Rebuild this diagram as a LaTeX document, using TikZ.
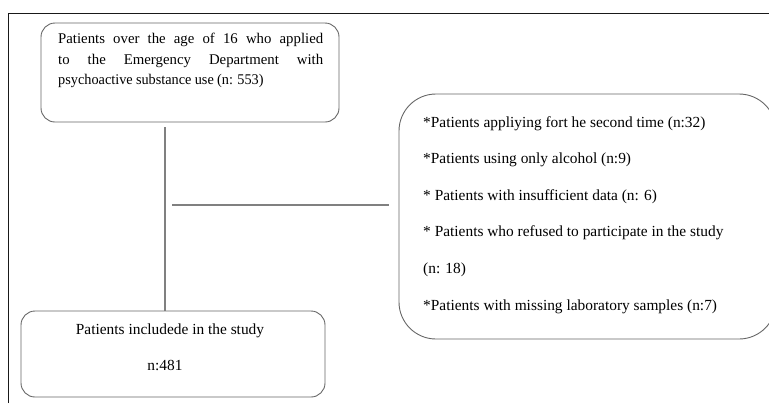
\documentclass[tikz,border=0pt]{standalone}
\usepackage{fontspec}
\setmainfont{Liberation Serif}
\begin{document}
\begin{tikzpicture}[x=1bp,y=-1bp,
  box/.style={draw=black!60, line width=0.9bp, rounded corners=14bp},
  bigbox/.style={draw=black!60, line width=0.9bp, rounded corners=37bp},
  conn/.style={draw=black!50, line width=1.4bp},
  frameline/.style={draw=black!90, line width=1bp},
  txt/.style={inner sep=0pt, font=\fontsize{15.4bp}{20.5bp}\selectfont},
  ttxt/.style={inner sep=0pt, font=\fontsize{14.8bp}{20.5bp}\selectfont}]
\useasboundingbox (0,0) rectangle (769,403);
\clip (0,0) rectangle (769,403);
% frame
\coordinate (fl) at (8,403);
\coordinate (fc) at (8,13);
\coordinate (fr) at (769,13);
\draw[frameline] (fl) -- (fc) -- (fr);
% boxes
\node[box, minimum width=298bp, minimum height=99bp] (top) at (190,72.5) {};
\node[ttxt, anchor=north west, text width=265bp, align=justify] (toptext) at (58,33)
  {Patients over the age of 16 who applied\linebreak to the Emergency Department with\linebreak {\addfontfeatures{FakeStretch=0.965}\spaceskip=0.22em psychoactive substance use (n: 553)}};
\node[box, minimum width=304bp, minimum height=86bp] (bottom) at (173,354) {};
\node[txt, anchor=base] (inc) at (170,334) {Patients includede in the study};
\node[txt, anchor=base] (n481) at (165,370) {n:481};
\node[bigbox, minimum width=377bp, minimum height=245bp] (excl) at (587.5,216.5) {};
\node[txt, anchor=base west] (e1) at (423,127) {*Patients appliying fort he second time (n:32)};
\node[txt, anchor=base west] (e2) at (423,163.5) {*Patients using only alcohol (n:9)};
\node[txt, anchor=base west] (e3) at (423,200) {* Patients with insufficient data (n: 6)};
\node[txt, anchor=base west] (e4) at (423,236.5) {* Patients who refused to participate in the study};
\node[txt, anchor=base west] (e5) at (423,273) {(n: 18)};
\node[txt, anchor=base west] (e6) at (423,310) {*Patients with missing laboratory samples (n:7)};
% connectors
\coordinate (vtop) at (165,127);
\draw[conn] (vtop) -- (bottom.north -| vtop);
\coordinate (hl) at (172,205);
\coordinate (hr) at (389,205);
\draw[conn] (hl) -- (hr);
\end{tikzpicture}
\end{document}
